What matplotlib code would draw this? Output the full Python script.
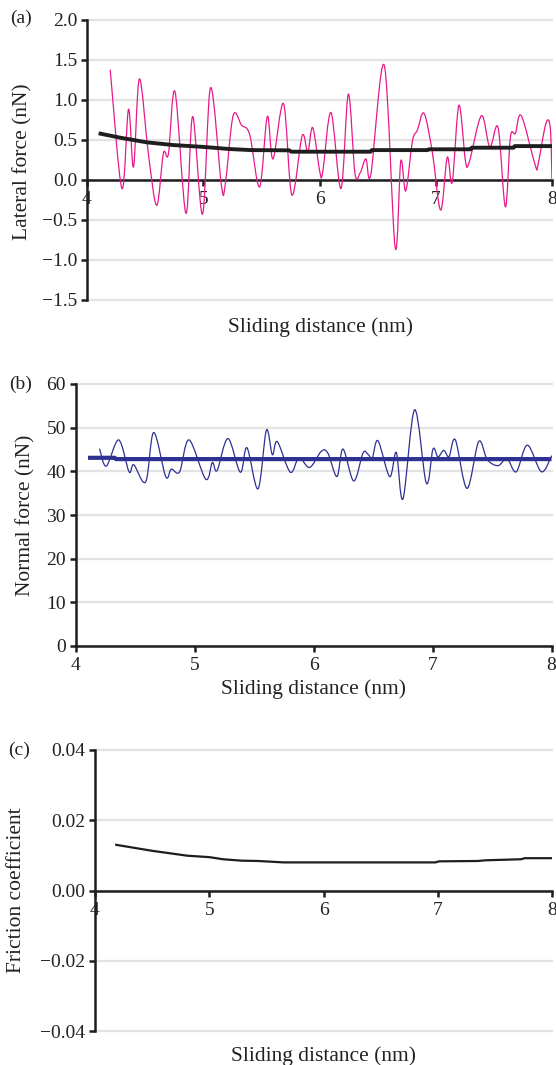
import matplotlib
matplotlib.use("Agg")
import matplotlib.pyplot as plt
from matplotlib.path import Path
from matplotlib.patches import PathPatch
from matplotlib.ticker import FixedLocator, FuncFormatter
import numpy as np

# ---------------- data ----------------
lat_x = [4.20, 4.30, 4.357, 4.40, 4.451, 4.53, 4.60, 4.657, 4.70, 4.757, 4.851, 4.909,
         4.994, 5.063, 5.157, 5.19, 5.257, 5.33, 5.40, 5.485, 5.551, 5.60, 5.691, 5.762,
         5.851, 5.899, 5.942, 6.005, 6.03, 6.099, 6.185, 6.248, 6.305, 6.351, 6.399, 6.442,
         6.557, 6.651, 6.699, 6.742, 6.799, 6.842, 6.899, 6.97, 7.042, 7.099, 7.142, 7.199,
         7.256, 7.29, 7.393, 7.465, 7.536, 7.599, 7.642, 7.685, 7.736, 7.856, 7.88, 7.947,
         7.985, 8.0]
lat_y = [1.37, -0.11, 0.88, 0.16, 1.26, 0.30, -0.32, 0.33, 0.32, 1.10, -0.42, 0.79,
         -0.43, 1.15, -0.08, -0.05, 0.80, 0.68, 0.56, -0.09, 0.79, 0.26, 0.95, -0.19,
         0.55, 0.35, 0.65, 0.08, 0.12, 0.84, -0.11, 1.07, 0.08, 0.09, 0.26, 0.07,
         1.43, -0.85, 0.23, -0.14, 0.48, 0.62, 0.83, 0.35, -0.38, 0.28, -0.03, 0.93,
         0.23, 0.23, 0.80, 0.41, 0.65, -0.34, 0.53, 0.58, 0.80, 0.18, 0.19, 0.70,
         0.65, 0.0]

lat_avg_x = [4.10, 4.286, 4.514, 4.743, 5.0, 5.229, 5.414, 5.74, 5.757, 6.44, 6.45,
             6.93, 6.94, 7.30, 7.31, 7.67, 7.68, 8.0]
lat_avg_y = [0.58, 0.525, 0.467, 0.433, 0.41, 0.383, 0.37, 0.367, 0.35, 0.35, 0.37,
             0.37, 0.38, 0.38, 0.40, 0.40, 0.42, 0.42]

norm_x = [4.203, 4.259, 4.363, 4.45, 4.49, 4.59, 4.657, 4.758, 4.805, 4.875, 4.954,
          5.094, 5.15, 5.19, 5.281, 5.385, 5.441, 5.534, 5.604, 5.654, 5.696, 5.805,
          5.878, 5.968, 6.066, 6.122, 6.197, 6.248, 6.338, 6.416, 6.458, 6.494, 6.542,
          6.64, 6.696, 6.752, 6.85, 6.948, 7.004, 7.046, 7.094, 7.139, 7.192, 7.29,
          7.388, 7.46, 7.55, 7.626, 7.704, 7.797, 7.915, 8.0]
norm_y = [45.1, 41.2, 47.2, 39.9, 41.5, 37.6, 48.9, 38.8, 40.5, 39.9, 47.2,
          38.2, 42.0, 40.2, 47.5, 39.8, 45.4, 36.0, 49.4, 43.8, 46.8, 39.8,
          43.1, 40.9, 44.6, 44.1, 38.8, 45.1, 37.8, 44.2, 43.9, 43.1, 47.0,
          38.8, 44.3, 33.7, 54.1, 37.3, 45.1, 43.3, 44.8, 43.4, 47.2, 36.1,
          46.8, 42.7, 41.3, 42.9, 39.9, 46.0, 39.9, 43.5]

norm_avg_x = [4.105, 4.33, 4.34, 8.0]
norm_avg_y = [43.1, 43.1, 42.8, 42.8]

fric_x = [4.186, 4.50, 4.81, 5.0, 5.12, 5.28, 5.43, 5.65, 6.98, 7.01, 7.35, 7.42,
          7.73, 7.76, 8.0]
fric_y = [0.0130, 0.0113, 0.0099, 0.0095, 0.0089, 0.0085, 0.0084, 0.0080, 0.0080,
          0.0083, 0.0084, 0.0086, 0.0089, 0.0092, 0.0092]

x_ticks = [4, 5, 6, 7, 8]
a_yticks = [-1.5, -1.0, -0.5, 0.0, 0.5, 1.0, 1.5, 2.0]
b_yticks = [0, 10, 20, 30, 40, 50, 60]
c_yticks = [-0.04, -0.02, 0.0, 0.02, 0.04]

# ---------------- style ----------------
plt.rcParams['font.family'] = ['Liberation Serif', 'DejaVu Serif']
TFS = 14      # tick labels
LFS = 15.5    # axis labels
GRID = '#e3e3e3'
PINK = '#E8198B'
BLUE = '#2E3192'
DARK = '#1e1e1e'
TXT = '#222222'

W, H = 556, 1065
fig = plt.figure(figsize=(W / 100, H / 100), dpi=100)


def add_ax(left, top, right, bottom):
    return fig.add_axes([left / W, 1 - bottom / H, (right - left) / W, (bottom - top) / H])


def smooth_line(ax, xs, ys, **kw):
    """Excel-style smoothed line: cubic Bezier segments through the data points."""
    P = np.column_stack([xs, ys]).astype(float)
    n = len(P)
    verts = [P[0]]
    codes = [Path.MOVETO]
    for i in range(n - 1):
        p0 = P[i - 1] if i > 0 else P[i]
        p1 = P[i]
        p2 = P[i + 1]
        p3 = P[i + 2] if i + 2 < n else P[i + 1]
        c1 = p1 + (p2 - p0) / 6.0
        c2 = p2 - (p3 - p1) / 6.0
        verts += [c1, c2, p2]
        codes += [Path.CURVE4] * 3
    patch = PathPatch(Path(verts, codes), facecolor='none', transform=ax.transData,
                      capstyle='round', joinstyle='round', **kw)
    ax.add_patch(patch)
    return patch


def style_axes(ax, yticks, ylim, fmt, xaxis_at_zero):
    ax.set_xlim(4, 8)
    ax.set_ylim(*ylim)
    for s in ['top', 'right']:
        ax.spines[s].set_visible(False)
    ax.spines['left'].set_linewidth(1.8)
    ax.spines['left'].set_color(DARK)
    ax.spines['bottom'].set_linewidth(1.8)
    ax.spines['bottom'].set_color(DARK)
    if xaxis_at_zero:
        ax.spines['bottom'].set_position(('data', 0))
    ax.yaxis.set_major_locator(FixedLocator(yticks))
    ax.yaxis.set_major_formatter(FuncFormatter(fmt))
    ax.xaxis.set_major_locator(FixedLocator(x_ticks))
    ax.xaxis.set_major_formatter(FuncFormatter(lambda v, p: f"{v:.0f}"))
    ax.tick_params(axis='both', direction='out', length=4, width=1.8, colors=DARK,
                   labelsize=TFS, labelcolor=TXT)
    ax.tick_params(axis='y', pad=3)
    ax.tick_params(axis='x', pad=4)
    for yv in yticks:
        ax.axhline(yv, color=GRID, lw=1.6, zorder=0, clip_on=False)
    ax.set_facecolor('none')


def fmt_signed(dec):
    def f(v, p):
        s = f"{abs(v):.{dec}f}"
        if v < -1e-12:
            s = '\u2212' + s
        return s
    return f


# ---------------- panel (a) ----------------
axa = add_ax(87, 19.7, 552, 299.7)
style_axes(axa, a_yticks, (-1.5, 2.0), fmt_signed(1), True)
smooth_line(axa, lat_x, lat_y, edgecolor=PINK, linewidth=0.9, zorder=3)
axa.plot(lat_avg_x, lat_avg_y, color=DARK, lw=2.8, zorder=4, solid_capstyle='butt')

# ---------------- panel (b) ----------------
axb = add_ax(75.5, 384, 551.5, 646)
style_axes(axb, b_yticks, (0, 60), lambda v, p: f"{v:.0f}", False)
smooth_line(axb, norm_x, norm_y, edgecolor=BLUE, linewidth=0.9, zorder=3)
axb.plot(norm_avg_x, norm_avg_y, color=BLUE, lw=3.0, zorder=4, solid_capstyle='butt')

# ---------------- panel (c) ----------------
axc = add_ax(95, 750, 552, 1031)
style_axes(axc, c_yticks, (-0.04, 0.04), fmt_signed(2), True)
axc.plot(fric_x, fric_y, color=DARK, lw=1.6, zorder=4)

# ---------------- texts ----------------
def ftext(x, y, s, fs, **kw):
    fig.text(x / W, 1 - y / H, s, fontsize=fs, color=TXT, **kw)

ftext(21, 18, '(a)', TFS, ha='center', va='center')
ftext(21, 384, '(b)', TFS, ha='center', va='center')
ftext(19, 750, '(c)', TFS, ha='center', va='center')

ftext(23, 162, 'Lateral force (nN)', LFS, ha='center', va='center', rotation=90)
ftext(26, 515, 'Normal force (nN)', LFS, ha='center', va='center', rotation=90)
ftext(17, 890, 'Friction coefficient', LFS, ha='center', va='center', rotation=90)

ftext(320, 327, 'Sliding distance (nm)', LFS, ha='center', va='center')
ftext(313, 689, 'Sliding distance (nm)', LFS, ha='center', va='center')
ftext(323, 1056, 'Sliding distance (nm)', LFS, ha='center', va='center')

fig.savefig('out.png', dpi=100)
